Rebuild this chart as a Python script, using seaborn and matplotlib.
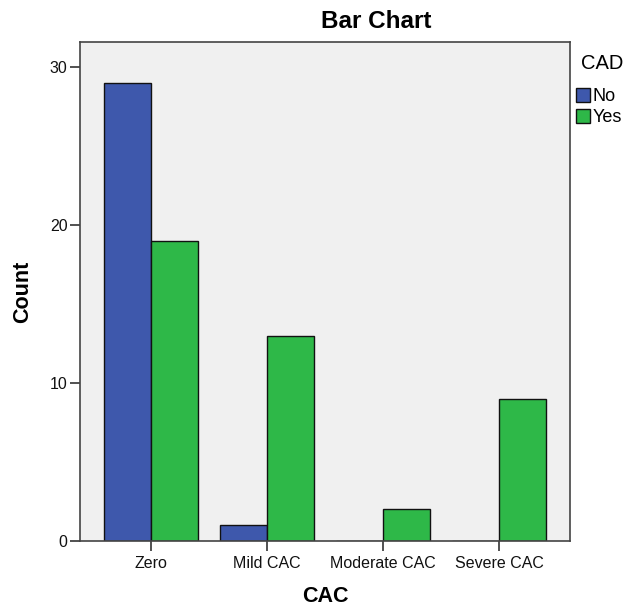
import matplotlib
matplotlib.use("Agg")
import matplotlib.pyplot as plt
import seaborn as sns
import pandas as pd
from matplotlib.patches import Patch

categories = ["Zero", "Mild CAC", "Moderate CAC", "Severe CAC"]
no_counts = [29, 1, 0, 0]
yes_counts = [19, 13, 2, 9]
hue_levels = ["No", "Yes"]
colors = ["#3E58AC", "#2EB848"]

df = pd.DataFrame({
    "CAC": categories * 2,
    "CAD": ["No"] * 4 + ["Yes"] * 4,
    "Count": no_counts + yes_counts,
})

sns.set_style("white")
plt.rcParams["font.family"] = ["Liberation Sans", "DejaVu Sans"]
plt.rcParams["text.color"] = "black"
plt.rcParams["axes.labelcolor"] = "black"

fig = plt.figure(figsize=(6.28, 6.09), dpi=100)
ax = fig.add_axes([80 / 628, 68 / 609, 490 / 628, 499 / 609])
ax.set_facecolor("#F0F0F0")

sns.barplot(data=df, x="CAC", y="Count", hue="CAD", order=categories,
            hue_order=hue_levels, palette=colors, saturation=1, width=0.81,
            edgecolor="#111111", linewidth=1.0, ax=ax, legend=False)

ax.set_xlim(-0.61, 3.61)
ax.set_ylim(0, 31.6)
ax.set_yticks([0, 10, 20, 30])
ax.tick_params(axis="both", direction="out", length=7, width=1.2,
               color="#333333", labelsize=11.5, labelcolor="#111111", pad=2,
               bottom=True, left=True)
ax.tick_params(axis="x", pad=4)
for s in ax.spines.values():
    s.set_color("#444444")
    s.set_linewidth(1.2)

ax.set_xlabel("CAC", fontsize=15.5, fontweight="bold", color="black")
ax.set_ylabel("Count", fontsize=15.5, fontweight="bold", color="black")
ax.xaxis.set_label_coords(0.5, (541 - 597) / 499)
ax.xaxis.label.set_va("center")
ax.yaxis.set_label_coords((23 - 80) / 490, 0.5)
ax.yaxis.label.set_va("center")
fig.text(376 / 628, 1 - 22 / 609, "Bar Chart", ha="center", va="center",
         fontsize=17.5, fontweight="bold", color="black")

handles = [Patch(facecolor=c, edgecolor="#111111", label=l)
           for c, l in zip(colors, hue_levels)]
leg = fig.legend(handles=handles, title="CAD", loc="upper left",
                 bbox_to_anchor=(576 / 628, 1 - 54 / 609), frameon=False,
                 fontsize=13, title_fontsize=14.5, handlelength=0.78,
                 handleheight=0.78, handletextpad=0.15, labelspacing=0.2,
                 borderaxespad=0, borderpad=0)
leg._legend_box.align = "left"
leg._legend_box.sep = 11
leg.get_title().set_position((5, 0))

fig.savefig("out.png", dpi=100)
